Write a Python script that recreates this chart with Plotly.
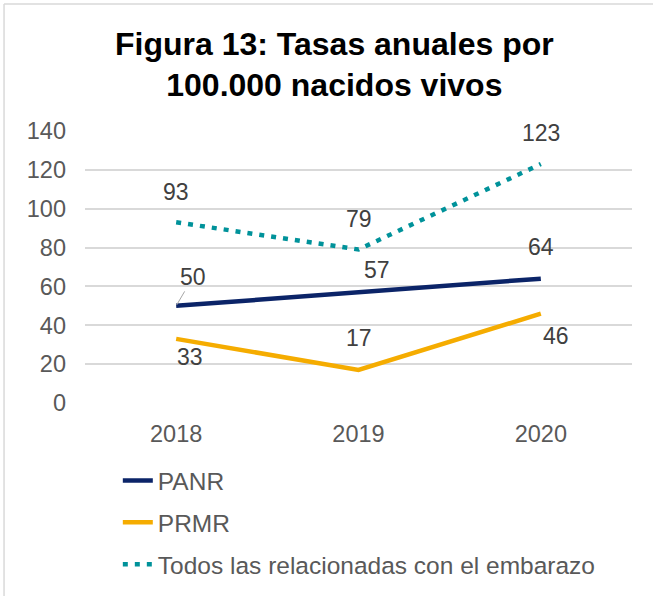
import plotly.graph_objects as go

years = ["2018", "2019", "2020"]
panr = [50, 57, 64]
prmr = [33, 17, 46]
todos = [93, 79, 123]

series_names = ["PANR", "PRMR", "Todos las relacionadas con el embarazo"]

# label offsets (px) relative to each point
panr_off = [(17, 29), (18, 22), (0, 32)]
prmr_off = [(14, -18), (0, 32), (15, -22)]
todos_off = [(0, 30), (0, 31), (0, 31)]

fig = go.Figure()
fig.add_trace(go.Scatter(x=years, y=panr, name=series_names[0], mode="lines",
                         legendgroup="a",
                         line=dict(color="#0B2468", width=4.5)))
fig.add_trace(go.Scatter(x=years, y=prmr, name=series_names[1], mode="lines",
                         legendgroup="b",
                         line=dict(color="#F5AC00", width=4.5)))
fig.add_trace(go.Scatter(x=years, y=todos, name=series_names[2], mode="lines",
                         legendgroup="c",
                         line=dict(color="#00929A", width=4.5, dash="5px,7px")))

for k, (vals, offs) in enumerate([(panr, panr_off), (prmr, prmr_off), (todos, todos_off)]):
    for i, v in enumerate(vals):
        dx, dy = offs[i]
        if k == 0 and i == 0:
            # label with leader line
            fig.add_annotation(x=i, y=v, xref="x", yref="y", text=str(v),
                               showarrow=True, arrowhead=0, arrowwidth=1,
                               arrowcolor="#A6A6A6", ax=dx, ay=-dy, standoff=1,
                               font=dict(size=23, color="#404040"))
        else:
            fig.add_annotation(x=i, y=v, xref="x", yref="y", text=str(v),
                               showarrow=False, xshift=dx, yshift=dy,
                               font=dict(size=23, color="#404040"))

fig.update_layout(
    width=653, height=596,
    margin=dict(l=85, r=21, t=131, b=193),
    paper_bgcolor="white", plot_bgcolor="white",
    font=dict(family="Liberation Sans, Arial, sans-serif", color="#595959", size=23.5),
    title=dict(text="<b>Figura 13: Tasas anuales por<br>100.000 nacidos vivos</b>",
               x=0.512, xref="container", xanchor="center",
               y=0.908, yref="container", yanchor="middle",
               font=dict(size=32, color="#000000")),
    xaxis=dict(type="category", range=[-0.5, 2.5], showgrid=False,
               showline=False, ticks="", ticklabelstandoff=14),
    yaxis=dict(range=[0, 140], dtick=20, showgrid=True, gridcolor="#D9D9D9",
               gridwidth=1.5, zeroline=False, showline=False, ticks="",
               ticklabelstandoff=18),
    legend=dict(orientation="v", x=0.06, y=1 - 458 / 596, yref="container",
                xanchor="left", yanchor="top",
                tracegroupgap=7, font=dict(size=24.5, color="#595959"),
                bgcolor="rgba(0,0,0,0)"),
    shapes=[
        dict(type="line", xref="paper", yref="paper", x0=-0.148, x1=1.05,
             y0=1.467, y1=1.467, line=dict(color="#D9D9D9", width=1.5)),
        dict(type="line", xref="paper", yref="paper", x0=-0.148, x1=-0.148,
             y0=1.467, y1=-0.72, line=dict(color="#D9D9D9", width=1.5)),
    ],
)

fig.write_html("out.html", config={"displayModeBar": False},
               post_script="document.body.style.margin='0px';")
